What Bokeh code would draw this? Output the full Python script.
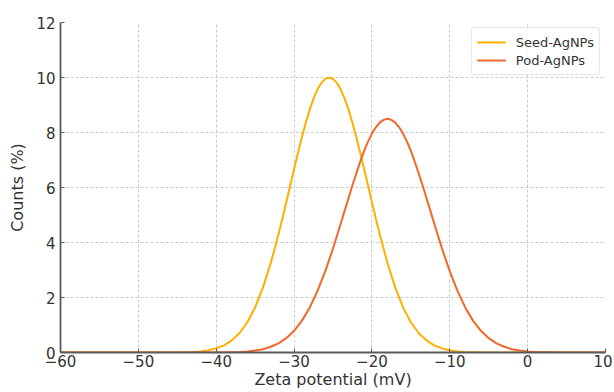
from bokeh.plotting import figure
from bokeh.models import Range1d, FixedTicker, Legend, LegendItem
from bokeh.embed import file_html
from bokeh.resources import INLINE

# ---- data ----
seed_x = [-60, -50, -45, -44, -43, -42, -41, -40, -39, -38, -37, -36, -35, -34, -33, -32,
          -31.5, -31, -30.5, -30, -29.5, -29, -28.5, -28, -27.5, -27, -26.5, -26, -25.5,
          -25, -24.5, -24, -23.5, -23, -22.5, -22, -21.5, -21, -20.5, -20, -19.5,
          -19, -18, -17, -16, -15, -14, -13, -12, -11, -10, -9, -8, -7, -6, 0, 10]
seed_y = [0, 0, 0, 0.01, 0.02, 0.04, 0.08, 0.15, 0.26, 0.44, 0.71, 1.10, 1.64, 2.36, 3.25, 4.30,
          4.87, 5.46, 6.07, 6.67, 7.26, 7.83, 8.35, 8.82, 9.23, 9.56, 9.80, 9.95, 10.0,
          9.95, 9.80, 9.56, 9.23, 8.82, 8.35, 7.83, 7.26, 6.67, 6.07, 5.46, 4.87,
          4.30, 3.25, 2.36, 1.64, 1.10, 0.71, 0.44, 0.26, 0.15, 0.08, 0.04, 0.02, 0.01, 0, 0, 0]

pod_x = [-60, -50, -41, -40, -39, -38, -37, -36, -35, -34, -33, -32, -31, -30, -29, -28, -27,
         -26, -25, -24, -23.5, -23, -22.5, -22, -21.5, -21, -20.5, -20, -19.5, -19, -18.5,
         -18, -17.5, -17, -16.5, -16, -15.5, -15, -14.5, -14, -13.5, -13, -12.5,
         -12, -11, -10, -9, -8, -7, -6, -5, -4, -3, -2, -1, 0, 1, 2, 3, 4, 10]
pod_y = [0, 0, 0, 0.0, 0.01, 0.01, 0.02, 0.04, 0.07, 0.12, 0.21, 0.33, 0.52, 0.79, 1.15, 1.63, 2.23,
         2.95, 3.78, 4.69, 5.16, 5.62, 6.08, 6.52, 6.94, 7.33, 7.67, 7.96, 8.19, 8.36, 8.46,
         8.50, 8.46, 8.36, 8.19, 7.96, 7.67, 7.33, 6.94, 6.52, 6.08, 5.62, 5.16,
         4.69, 3.78, 2.95, 2.23, 1.63, 1.15, 0.79, 0.52, 0.33, 0.21, 0.12, 0.07, 0.04, 0.02, 0.01, 0.01, 0, 0]

series_names = ["Seed-AgNPs", "Pod-AgNPs"]
series_colors = ["#FFAF00", "#F2682A"]

x_ticks = [-60, -50, -40, -30, -20, -10, 0, 10]
x_tick_labels = ["\u221260", "\u221250", "\u221240", "\u221230", "\u221220", "\u221210", "0", "10"]
y_ticks = [0, 2, 4, 6, 8, 10, 12]

FONT = "DejaVu Sans"
TEXT = "#333333"
AXIS = "#5a5a5a"

p = figure(width=612, height=391, output_backend="svg", toolbar_location=None,
           x_range=Range1d(-60, 10), y_range=Range1d(0, 12),
           min_border_left=60, min_border_right=7, min_border_top=22, min_border_bottom=0)
p.outline_line_color = None
p.background_fill_color = "white"
p.border_fill_color = "white"

for ax in (p.xaxis[0], p.yaxis[0]):
    ax.axis_line_color = AXIS
    ax.axis_line_width = 1.8
    ax.major_tick_line_color = AXIS
    ax.major_tick_in = 4
    ax.major_tick_out = 0
    ax.minor_tick_line_color = None
    ax.major_label_text_font = FONT
    ax.major_label_text_font_size = "15px"
    ax.major_label_text_color = TEXT
    ax.axis_label_text_font = FONT
    ax.axis_label_text_font_size = "16px"
    ax.axis_label_text_font_style = "normal"
    ax.axis_label_text_color = TEXT

p.xaxis.ticker = FixedTicker(ticks=x_ticks)
p.xaxis.major_label_overrides = {t: l for t, l in zip(x_ticks, x_tick_labels)}
p.yaxis.ticker = FixedTicker(ticks=y_ticks)
p.xaxis.axis_label = "Zeta potential (mV)"
p.yaxis.axis_label = "Counts (%)"
p.xaxis.major_label_standoff = 2
p.xaxis.axis_label_standoff = 0
p.yaxis.major_label_standoff = 5
p.yaxis.axis_label_standoff = 6

p.xgrid.ticker = FixedTicker(ticks=x_ticks)
p.ygrid.ticker = FixedTicker(ticks=y_ticks)
for g in (p.xgrid[0], p.ygrid[0]):
    g.grid_line_color = "#cccccc"
    g.grid_line_dash = "3 2"
    g.grid_line_width = 1

r1 = p.line(seed_x, seed_y, line_color=series_colors[0], line_width=2)
r2 = p.line(pod_x, pod_y, line_color=series_colors[1], line_width=2)

legend = Legend(items=[LegendItem(label=series_names[0], renderers=[r1]),
                       LegendItem(label=series_names[1], renderers=[r2])],
                location="top_right")
legend.margin = 5
legend.padding = 5
legend.spacing = 0
legend.glyph_width = 29
legend.glyph_height = 18
legend.label_height = 18
legend.label_standoff = 10
legend.label_text_font = FONT
legend.label_text_font_size = "13px"
legend.label_text_color = TEXT
legend.border_line_color = "#cccccc"
legend.border_line_width = 1
legend.border_radius = 4
legend.background_fill_alpha = 0.8
p.add_layout(legend)

open("out.html", "w").write(file_html(p, INLINE))
